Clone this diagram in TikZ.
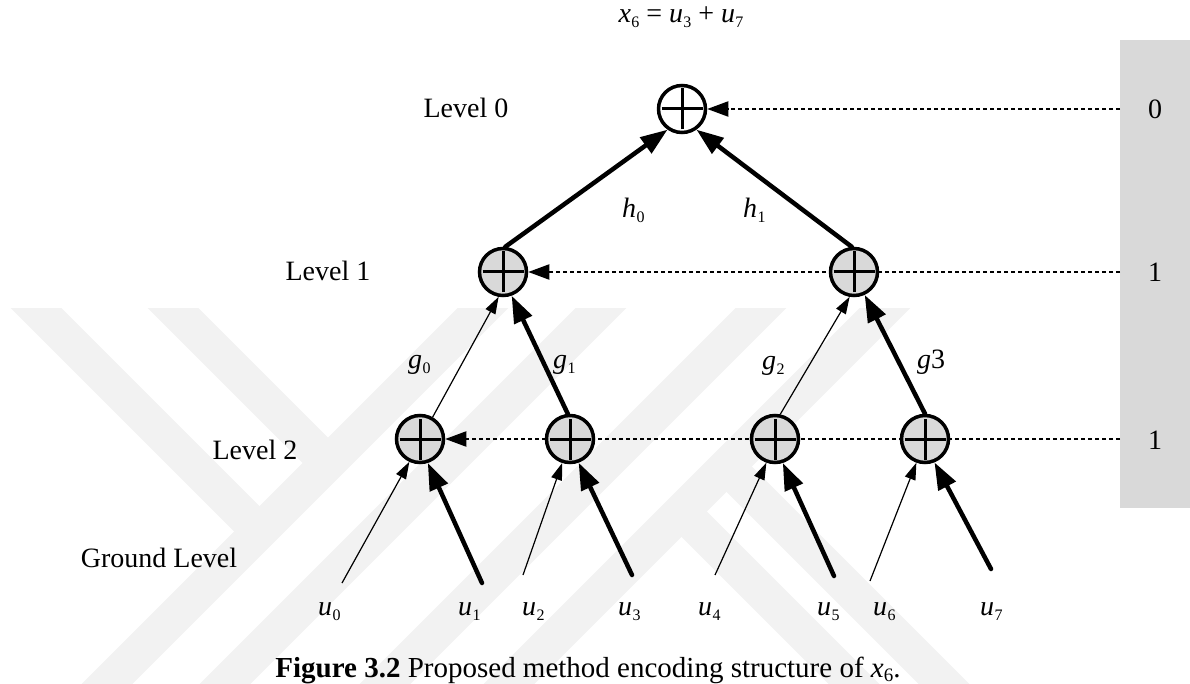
\documentclass[tikz,border=0pt]{standalone}
\usepackage{fontspec}
\setmainfont{Liberation Serif}
\usetikzlibrary{arrows.meta,backgrounds}

\definecolor{sumgray}{RGB}{217,217,217}
\definecolor{boxgray}{RGB}{217,217,217}
\definecolor{wmgray}{RGB}{242,242,242}

% italic variable with a small upright subscript
\newcommand{\sv}[2]{\textit{#1}\kern0.3pt\raisebox{-5pt}{\fontsize{16}{16}\selectfont #2}}

\begin{document}
\begin{tikzpicture}[x=1pt,y=-1pt,
  every node/.style={font=\fontsize{28}{30}\selectfont,inner sep=0pt},
  sum/.style={circle,draw,line width=3.5pt,minimum size=47pt,fill=sumgray},
  plusbar/.style={line width=3pt},
  thickarrow/.style={line width=4.5pt,line cap=round,-{Triangle[length=27pt,width=19pt]}},
  thinarrow/.style={line width=1.2pt,-{Triangle[length=17pt,width=11pt]}},
  dotline/.style={line width=2pt,dash pattern=on 4pt off 3pt,-{Triangle[length=21pt,width=15pt]}},
  band/.style={wmgray,line width=36pt}]
\useasboundingbox (0,0) rectangle (1190,684);

% adder nodes
\node[sum,fill=white] (top) at (682,109) {};
\node[sum] (la) at (503,272) {};
\node[sum] (lb) at (854,272) {};
\node[sum] (ma) at (420,439) {};
\node[sum] (mb) at (570,439) {};
\node[sum] (mc) at (775,439) {};
\node[sum] (md) at (925,439) {};
\foreach \n in {top,la,lb,ma,mb,mc,md}
  \draw[plusbar] ([xshift=-20.5pt]\n.center) -- ([xshift=20.5pt]\n.center)
                 ([yshift=-20.5pt]\n.center) -- ([yshift=20.5pt]\n.center);

% level markers on the right
\coordinate (r0) at (1120,109);
\coordinate (r1) at (1120,272);
\coordinate (r2) at (1120,439);

\begin{scope}[on background layer]
  % faint logo pattern
  \begin{scope}
    \clip (0,308) rectangle (1190,684);
    \draw[band] (-4,268) -- (259.5,531.5);
    \draw[band] (133,268) -- (328,463);
    \draw[band] (67,724) -- (523,268);
    \draw[band] (185,724) -- (641,268);
    \draw[band] (345,724) -- (801,268);
    \draw[band] (469,724) -- (925,268);
    \draw[band] (726.5,466.5) -- (984,724);
    \draw[band] (681.5,511.5) -- (894,724);
  \end{scope}
  \fill[boxgray] (1120,40) rectangle (1190,508);
  \draw[dotline] (r0) -- (top.east);
  \draw[dotline] (r1) -- (la.east);
  \draw[dotline] (r2) -- (ma.east);
\end{scope}

% ground inputs
\coordinate (s0) at (342,583);
\coordinate (s1) at (482,583);
\coordinate (s2) at (523,575);
\coordinate (s3) at (632,575);
\coordinate (s4) at (715,575);
\coordinate (s5) at (834,576);
\coordinate (s6) at (870,581);
\coordinate (s7) at (991,569);

% connections
\draw[thickarrow] (la.85) -- (top.-125);
\draw[thickarrow] (lb.95) -- (top.-55);
\draw[thinarrow] (ma.60) -- (la.-100);
\draw[thickarrow] (mb.95) -- (la.-70);
\draw[thinarrow] (mc.78) -- (lb.-100);
\draw[thickarrow] (md.90) -- (lb.-65);
\draw[thinarrow] (s0) -- (ma.-115);
\draw[thickarrow] (s1) -- (ma.-72);
\draw[thinarrow] (s2) -- (mb.-108);
\draw[thickarrow] (s3) -- (mb.-70);
\draw[thinarrow] (s4) -- (mc.-110);
\draw[thickarrow] (s5) -- (mc.-72);
\draw[thinarrow] (s6) -- (md.-110);
\draw[thickarrow] (s7) -- (md.-68);

% texts
\node[anchor=base] (eq) at (681,23) {\sv{x}{6} = \sv{u}{3} + \sv{u}{7}};
\node[anchor=base] (lev0) at (466,118) {Level 0};
\node[anchor=base] (lev1) at (328,281) {Level 1};
\node[anchor=base] (lev2) at (255,459) {Level 2};
\node[anchor=base] (levg) at (159,567) {Ground Level};
\node[anchor=base] (n0) at (1155,119) {0};
\node[anchor=base] (n1) at (1155,282) {1};
\node[anchor=base] (n2) at (1155,449) {1};

\node[anchor=base west] (h0) at (622,218) {\sv{h}{0}};
\node[anchor=base west] (h1) at (743,218) {\sv{h}{1}};
\node[anchor=base west] (g0) at (408,368) {\sv{g}{0}};
\node[anchor=base west] (g1) at (553,368) {\sv{g}{1}};
\node[anchor=base west] (g2) at (762,369) {\sv{g}{2}};
\node[anchor=base west] (g3) at (917,368) {\textit{g}3};

\node[anchor=base west] (u0) at (318,615) {\sv{u}{0}};
\node[anchor=base west] (u1) at (458,615) {\sv{u}{1}};
\node[anchor=base west] (u2) at (522,615) {\sv{u}{2}};
\node[anchor=base west] (u3) at (618,615) {\sv{u}{3}};
\node[anchor=base west] (u4) at (698,615) {\sv{u}{4}};
\node[anchor=base west] (u5) at (817,615) {\sv{u}{5}};
\node[anchor=base west] (u6) at (873,615) {\sv{u}{6}};
\node[anchor=base west] (u7) at (980,615) {\sv{u}{7}};

\node[anchor=base,font=\fontsize{29}{31}\selectfont] (cap) at (588,677)
  {\textbf{Figure 3.2} Proposed method encoding structure of \textit{x}\raisebox{-4pt}{\fontsize{19}{19}\selectfont 6}.};
\end{tikzpicture}
\end{document}
